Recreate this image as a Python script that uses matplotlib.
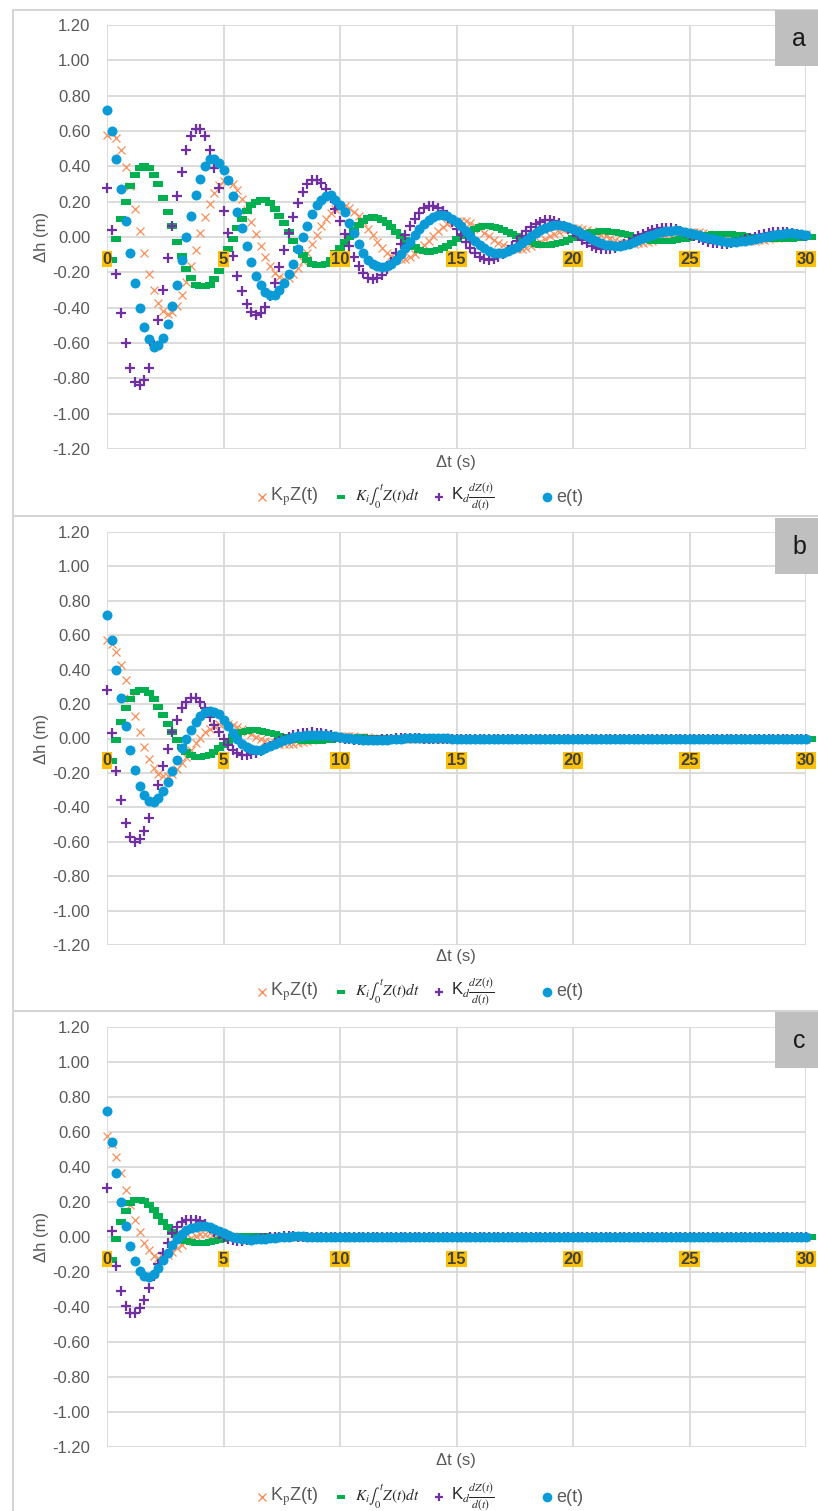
import numpy as np
import matplotlib
matplotlib.use("Agg")
import matplotlib.pyplot as plt
from matplotlib.path import Path
from matplotlib.lines import Line2D
from matplotlib.patches import Rectangle
from matplotlib.ticker import FormatStrFormatter
from matplotlib.transforms import offset_copy

plt.rcParams['font.family'] = ['Liberation Sans', 'DejaVu Sans']

W, H = 818, 1511
DT = 0.2
t = np.arange(151) * DT          # sample times, 0 .. 30 s
t_ki = t + DT                    # the integral column is logged one sample later

# ---- a: weakly damped ----
kp_a = [
    0.575,
    0.590, 0.558, 0.492, 0.399, 0.286, 0.161, 0.032, -0.093, -0.207, -0.301, -0.373, -0.418, -0.435,
    -0.425, -0.389, -0.330, -0.254, -0.165, -0.071, 0.023, 0.112, 0.189, 0.250, 0.294, 0.317,
    0.319, 0.301, 0.266, 0.216, 0.155, 0.087, 0.017, -0.050, -0.112, -0.163, -0.202, -0.226, -0.235,
    -0.230, -0.210, -0.178, -0.137, -0.089, -0.038, 0.012, 0.060, 0.102, 0.135, 0.159, 0.171,
    0.173, 0.163, 0.144, 0.117, 0.084, 0.047, 0.009, -0.027, -0.060, -0.088, -0.109, -0.122, -0.127,
    -0.124, -0.114, -0.097, -0.074, -0.048, -0.021, 0.007, 0.033, 0.055, 0.073, 0.086, 0.093,
    0.093, 0.088, 0.078, 0.063, 0.045, 0.025, 0.005, -0.015, -0.033, -0.048, -0.059, -0.066, -0.069,
    -0.067, -0.062, -0.052, -0.040, -0.026, -0.011, 0.004, 0.018, 0.030, 0.040, 0.047, 0.050,
    0.051, 0.048, 0.042, 0.034, 0.024, 0.014, 0.003, -0.008, -0.018, -0.026, -0.032, -0.036, -0.037,
    -0.036, -0.033, -0.028, -0.022, -0.014, -0.006, 0.002, 0.010, 0.016, 0.021, 0.025, 0.027,
    0.027, 0.026, 0.023, 0.018, 0.013, 0.007, 0.001, -0.004, -0.010, -0.014, -0.017, -0.019, -0.020,
    -0.020, -0.018, -0.015, -0.012, -0.008, -0.003, 0.001, 0.005, 0.009, 0.012, 0.014, 0.015,
]
ki_a = [
    -0.13, -0.01, 0.10, 0.20, 0.29, 0.35, 0.39, 0.40, 0.39, 0.35, 0.30, 0.22, 0.14, 0.06, -0.03,
    -0.11, -0.18, -0.23, -0.27, -0.28, -0.28, -0.27, -0.24, -0.19, -0.13, -0.07, -0.01, 0.05, 0.10,
    0.15, 0.18, 0.20, 0.21, 0.21, 0.19, 0.16, 0.12, 0.08, 0.03, -0.02, -0.07, -0.10, -0.13, -0.15,
    -0.16, -0.16, -0.15, -0.13, -0.09, -0.06, -0.03, 0.00, 0.04, 0.07, 0.09, 0.105, 0.113,
    0.107, 0.094, 0.077, 0.055, 0.031, 0.006, -0.018, -0.040, -0.058, -0.072, -0.080, -0.083, -0.081,
    -0.074, -0.063, -0.049, -0.032, -0.014, 0.004, 0.021, 0.036, 0.048, 0.056, 0.061, 0.061,
    0.058, 0.051, 0.041, 0.030, 0.017, 0.003, -0.010, -0.021, -0.031, -0.039, -0.043, -0.045, -0.044,
    -0.040, -0.034, -0.026, -0.017, -0.007, 0.002, 0.012, 0.020, 0.026, 0.030, 0.033, 0.033,
    0.031, 0.028, 0.022, 0.016, 0.009, 0.002, -0.005, -0.012, -0.017, -0.021, -0.023, -0.024, -0.024,
    -0.022, -0.019, -0.014, -0.009, -0.004, 0.001, 0.006, 0.011, 0.014, 0.016, 0.018, 0.018,
    0.017, 0.015, 0.012, 0.009, 0.005, 0.001, -0.003, -0.006, -0.009, -0.011, -0.013, -0.013, -0.013,
    -0.012, -0.010, -0.008, -0.005, -0.002, 0.001,
]
kd_a = [
    0.28, 0.04, -0.21, -0.43, -0.60, -0.74, -0.82, -0.84, -0.81, -0.74, -0.61, -0.47, -0.30, -0.12,
    0.06, 0.23, 0.37, 0.49, 0.57, 0.61, 0.61, 0.57, 0.49, 0.39, 0.28, 0.15, 0.02, -0.11, -0.22,
    -0.307, -0.380, -0.425, -0.443, -0.432, -0.395, -0.335, -0.258, -0.168, -0.072, 0.023, 0.113,
    0.192, 0.254, 0.299, 0.322,
    0.325, 0.307, 0.271, 0.220, 0.158, 0.089, 0.018, -0.051, -0.114, -0.166, -0.206, -0.230, -0.240,
    -0.234, -0.214, -0.182, -0.140, -0.091, -0.039, 0.013, 0.061, 0.104, 0.138, 0.162, 0.175,
    0.176, 0.166, 0.146, 0.119, 0.085, 0.048, 0.009, -0.028, -0.061, -0.090, -0.111, -0.125, -0.130,
    -0.126, -0.116, -0.098, -0.076, -0.049, -0.021, 0.007, 0.033, 0.056, 0.074, 0.087, 0.094,
    0.095, 0.090, 0.079, 0.064, 0.046, 0.026, 0.005, -0.015, -0.033, -0.049, -0.060, -0.067, -0.070,
    -0.068, -0.063, -0.053, -0.041, -0.027, -0.011, 0.004, 0.018, 0.030, 0.040, 0.047, 0.051,
    0.051, 0.049, 0.043, 0.035, 0.025, 0.014, 0.003, -0.008, -0.018, -0.026, -0.033, -0.036, -0.038,
    -0.037, -0.034, -0.029, -0.022, -0.014, -0.006, 0.002, 0.010, 0.016, 0.022, 0.026, 0.028,
    0.028, 0.026, 0.023, 0.019, 0.013, 0.008,
]
e_a = [
    0.72, 0.60, 0.44, 0.27, 0.09, -0.09, -0.26, -0.40, -0.51, -0.58, -0.62, -0.61, -0.57, -0.49,
    -0.39, -0.27, -0.13, 0.00, 0.12, 0.24, 0.33, 0.40, 0.44, 0.44, 0.42, 0.38, 0.32, 0.23, 0.14,
    0.05, -0.05, -0.14, -0.22, -0.27, -0.31, -0.33, -0.33, -0.30, -0.26, -0.21, -0.15, -0.07, 0.00,
    0.06, 0.13, 0.18, 0.21, 0.23, 0.235, 0.21, 0.18, 0.14, 0.08, 0.02, -0.04, -0.09, -0.13, -0.155,
    -0.165,
    -0.170, -0.166, -0.152, -0.129, -0.099, -0.065, -0.028, 0.009, 0.044, 0.074, 0.098, 0.115, 0.124,
    0.125, 0.118, 0.104, 0.085, 0.061, 0.034, 0.007, -0.020, -0.044, -0.064, -0.079, -0.089, -0.092,
    -0.090, -0.082, -0.070, -0.054, -0.035, -0.015, 0.005, 0.024, 0.040, 0.053, 0.062, 0.067,
    0.068, 0.064, 0.056, 0.046, 0.033, 0.018, 0.004, -0.011, -0.024, -0.035, -0.043, -0.048, -0.050,
    -0.049, -0.045, -0.038, -0.029, -0.019, -0.008, 0.003, 0.013, 0.022, 0.029, 0.034, 0.036,
    0.037, 0.035, 0.031, 0.025, 0.018, 0.010, 0.002, -0.006, -0.013, -0.019, -0.023, -0.026, -0.027,
    -0.026, -0.024, -0.020, -0.016, -0.010, -0.004, 0.001, 0.007, 0.012, 0.016, 0.018, 0.020,
    0.020, 0.019, 0.017, 0.013,
]

# ---- b: moderately damped ----
kp_b = [
    0.57, 0.55, 0.50, 0.43, 0.34, 0.235, 0.13, 0.035, -0.05, -0.12,
    -0.17, -0.205, -0.22, -0.22, -0.205, -0.18, -0.145, -0.105, -0.065, -0.028,
    0.005, 0.035, 0.058, 0.075, 0.085, 0.088, 0.086, 0.079, 0.068, 0.055,
    0.04, 0.025, 0.011, -0.002, -0.013, -0.022, -0.028, -0.032, -0.034, -0.033,
    -0.031, -0.027, -0.022, -0.016, -0.010, -0.005, 0.000, 0.004, 0.008, 0.010,
    0.012, 0.013, 0.013, 0.012, 0.010, 0.008, 0.006, 0.004, 0.002, 0.000,
    -0.002, -0.003, -0.004, -0.005, -0.005, -0.005, -0.004, -0.004, -0.003, -0.002, -0.001,
    0, 0, 0, 0, 0, 0, 0, 0, 0, 0, 0, 0, 0, 0, 0, 0, 0, 0, 0, 0,
    0, 0, 0, 0, 0, 0, 0, 0, 0, 0, 0, 0, 0, 0, 0, 0, 0, 0, 0, 0,
    0, 0, 0, 0, 0, 0, 0, 0, 0, 0, 0, 0, 0, 0, 0, 0, 0, 0, 0, 0,
    0, 0, 0, 0, 0, 0, 0, 0, 0, 0, 0, 0, 0, 0, 0, 0, 0, 0, 0, 0,
]
ki_b = [
    -0.13, -0.01, 0.095, 0.175, 0.232, 0.268, 0.282, 0.28, 0.265, 0.23,
    0.185, 0.135, 0.085, 0.035, -0.01, -0.05, -0.08, -0.098, -0.106, -0.108,
    -0.104, -0.094, -0.078, -0.058, -0.035, -0.012, 0.008, 0.024, 0.036, 0.043,
    0.047, 0.047, 0.045, 0.040, 0.033, 0.025, 0.016, 0.008, 0.000, -0.006,
    -0.011, -0.014, -0.016, -0.016, -0.015, -0.013, -0.010, -0.007, -0.004, -0.001,
    0.002, 0.004, 0.005, 0.006, 0.006, 0.005, 0.004, 0.003, 0.002, 0.000,
    -0.001, -0.002, -0.002, -0.002, -0.002, -0.001,
    0, 0, 0, 0, 0, 0, 0, 0, 0, 0, 0, 0, 0, 0, 0, 0, 0, 0, 0, 0,
    0, 0, 0, 0, 0, 0, 0, 0, 0, 0, 0, 0, 0, 0, 0, 0, 0, 0, 0, 0,
    0, 0, 0, 0, 0, 0, 0, 0, 0, 0, 0, 0, 0, 0, 0, 0, 0, 0, 0, 0,
    0, 0, 0, 0, 0, 0, 0, 0, 0, 0, 0, 0, 0, 0, 0, 0, 0, 0, 0, 0,
    0, 0, 0, 0, 0,
]
kd_b = [
    0.28, 0.03, -0.19, -0.36, -0.49, -0.57, -0.60, -0.585, -0.54, -0.46,
    -0.37, -0.27, -0.16, -0.06, 0.035, 0.11, 0.175, 0.215, 0.235, 0.235,
    0.215, 0.175, 0.125, 0.08, 0.035, -0.005, -0.04, -0.068, -0.085, -0.093,
    -0.095, -0.092, -0.085, -0.072, -0.057, -0.041, -0.026, -0.012, 0.000, 0.010,
    0.019, 0.026, 0.031, 0.034, 0.035, 0.034, 0.030, 0.025, 0.018, 0.011,
    0.005, 0.000, -0.004, -0.007, -0.009, -0.010, -0.009, -0.008, -0.006, -0.004,
    -0.002, 0.000, 0.001, 0.002, 0.003, 0.003, 0.002, 0.001,
    0, 0, 0, 0, 0, 0, 0, 0, 0, 0, 0, 0, 0, 0, 0, 0, 0, 0, 0, 0,
    0, 0, 0, 0, 0, 0, 0, 0, 0, 0, 0, 0, 0, 0, 0, 0, 0, 0, 0, 0,
    0, 0, 0, 0, 0, 0, 0, 0, 0, 0, 0, 0, 0, 0, 0, 0, 0, 0, 0, 0,
    0, 0, 0, 0, 0, 0, 0, 0, 0, 0, 0, 0, 0, 0, 0, 0, 0, 0, 0, 0,
    0, 0, 0,
]
e_b = [
    0.72, 0.57, 0.40, 0.235, 0.075, -0.068, -0.183, -0.276, -0.33, -0.363,
    -0.367, -0.344, -0.305, -0.253, -0.19, -0.125, -0.054, 0.0, 0.052, 0.095,
    0.13, 0.152, 0.16, 0.156, 0.14, 0.11, 0.07, 0.033, 0.0, -0.03,
    -0.048, -0.06, -0.064, -0.064, -0.054, -0.044, -0.033, -0.022, -0.011, -0.001,
    0.007, 0.013, 0.017, 0.020, 0.022, 0.022, 0.021, 0.019, 0.016, 0.013,
    0.009, 0.005, 0.001, -0.002, -0.005, -0.007, -0.008, -0.009, -0.009, -0.008,
    -0.007, -0.005, -0.003, -0.001, 0.001, 0.002, 0.003, 0.003, 0.003, 0.003,
    0.002, 0.002, 0.001, 0.001,
    0, 0, 0, 0, 0, 0, 0, 0, 0, 0, 0, 0, 0, 0, 0, 0, 0, 0, 0, 0,
    0, 0, 0, 0, 0, 0, 0, 0, 0, 0, 0, 0, 0, 0, 0, 0, 0, 0, 0, 0,
    0, 0, 0, 0, 0, 0, 0, 0, 0, 0, 0, 0, 0, 0, 0, 0, 0, 0, 0, 0,
    0, 0, 0, 0, 0, 0, 0, 0, 0, 0,
    0, 0, 0, 0, 0, 0, 0,
]

# ---- c: strongly damped ----
kp_c = [
    0.577, 0.53, 0.456, 0.368, 0.271, 0.183, 0.10, 0.027, -0.035, -0.077,
    -0.107, -0.12, -0.116, -0.103, -0.085, -0.064, -0.043, -0.023, -0.006, 0.007,
    0.015, 0.02, 0.021, 0.019, 0.016, 0.012, 0.008, 0.004, 0.001, -0.002,
    -0.003, -0.004, -0.004, -0.004, -0.003, -0.002, -0.001,
    0, 0, 0, 0, 0, 0, 0, 0, 0, 0, 0, 0, 0, 0, 0, 0, 0, 0, 0, 0,
    0, 0, 0, 0, 0, 0, 0, 0, 0, 0, 0, 0, 0, 0, 0, 0, 0, 0, 0, 0,
    0, 0, 0, 0, 0, 0, 0, 0, 0, 0, 0, 0, 0, 0, 0, 0, 0, 0, 0, 0,
    0, 0, 0, 0, 0, 0, 0, 0, 0, 0, 0, 0, 0, 0, 0, 0, 0, 0, 0, 0,
    0, 0, 0, 0, 0, 0, 0, 0, 0, 0, 0, 0, 0, 0, 0, 0, 0, 0, 0, 0,
    0, 0, 0, 0, 0, 0, 0, 0, 0, 0,
    0, 0, 0, 0,
]
ki_c = [
    -0.13, -0.01, 0.086, 0.15, 0.193, 0.21, 0.213, 0.204, 0.182, 0.152,
    0.118, 0.085, 0.055, 0.03, 0.009, -0.008, -0.021, -0.029, -0.034, -0.036,
    -0.034, -0.03, -0.025, -0.018, -0.012, -0.006, -0.002, 0.001, 0.003, 0.004,
    0.005, 0.005, 0.004, 0.003, 0.002, 0.001,
    0, 0, 0, 0, 0, 0, 0, 0, 0, 0, 0, 0, 0, 0, 0, 0, 0, 0, 0, 0,
    0, 0, 0, 0, 0, 0, 0, 0, 0, 0, 0, 0, 0, 0, 0, 0, 0, 0, 0, 0,
    0, 0, 0, 0, 0, 0, 0, 0, 0, 0, 0, 0, 0, 0, 0, 0, 0, 0, 0, 0,
    0, 0, 0, 0, 0, 0, 0, 0, 0, 0, 0, 0, 0, 0, 0, 0, 0, 0, 0, 0,
    0, 0, 0, 0, 0, 0, 0, 0, 0, 0, 0, 0, 0, 0, 0, 0, 0, 0, 0, 0,
    0, 0, 0, 0, 0, 0, 0, 0, 0, 0,
    0, 0, 0, 0, 0,
]
kd_c = [
    0.28, 0.034, -0.166, -0.31, -0.392, -0.435, -0.437, -0.408, -0.359, -0.294,
    -0.222, -0.152, -0.09, -0.032, 0.021, 0.06, 0.083, 0.097, 0.1, 0.1,
    0.092, 0.074, 0.05, 0.03, 0.015, 0.002, -0.009, -0.016, -0.02, -0.021,
    -0.019, -0.016, -0.012, -0.008, -0.004, -0.001, 0.001, 0.002, 0.003, 0.003,
    0.003, 0.002, 0.001,
    0, 0, 0, 0, 0, 0, 0, 0, 0, 0, 0, 0, 0, 0, 0, 0, 0, 0, 0, 0,
    0, 0, 0, 0, 0, 0, 0, 0, 0, 0, 0, 0, 0, 0, 0, 0, 0, 0, 0, 0,
    0, 0, 0, 0, 0, 0, 0, 0, 0, 0, 0, 0, 0, 0, 0, 0, 0, 0, 0, 0,
    0, 0, 0, 0, 0, 0, 0, 0, 0, 0, 0, 0, 0, 0, 0, 0, 0, 0, 0, 0,
    0, 0, 0, 0, 0, 0, 0, 0, 0, 0, 0, 0, 0, 0, 0, 0, 0, 0, 0, 0,
    0, 0, 0, 0, 0, 0, 0, 0,
]
e_c = [
    0.72, 0.545, 0.366, 0.20, 0.062, -0.05, -0.136, -0.194, -0.224, -0.23,
    -0.212, -0.176, -0.132, -0.09, -0.047, -0.01, 0.02, 0.04, 0.053, 0.06,
    0.063, 0.062, 0.057, 0.048, 0.036, 0.024, 0.012, 0.002, -0.006, -0.011,
    -0.014, -0.015, -0.014, -0.012, -0.009, -0.006, -0.003, -0.001, 0.001, 0.002,
    0.003, 0.003, 0.003, 0.002, 0.001,
    0, 0, 0, 0, 0, 0, 0, 0, 0, 0, 0, 0, 0, 0, 0, 0, 0, 0, 0, 0,
    0, 0, 0, 0, 0, 0, 0, 0, 0, 0, 0, 0, 0, 0, 0, 0, 0, 0, 0, 0,
    0, 0, 0, 0, 0, 0, 0, 0, 0, 0, 0, 0, 0, 0, 0, 0, 0, 0, 0, 0,
    0, 0, 0, 0, 0, 0, 0, 0, 0, 0, 0, 0, 0, 0, 0, 0, 0, 0, 0, 0,
    0, 0, 0, 0, 0, 0, 0, 0, 0, 0, 0, 0, 0, 0, 0, 0, 0, 0, 0, 0,
    0, 0, 0, 0, 0, 0,
]

x_ticks = [0, 5, 10, 15, 20, 25, 30]
y_ticks = [i / 5 for i in range(-6, 7)]

ORANGE = '#F4915E'
GREEN = '#00B050'
PURPLE = '#7030A0'
BLUE = '#0A9BD7'
GRID = '#D9D9D9'
TEXT = '#595959'

DASH = Path([(-1, -0.55), (1, -0.55), (1, 0.55), (-1, 0.55), (-1, -0.55)],
            [Path.MOVETO, Path.LINETO, Path.LINETO, Path.LINETO, Path.CLOSEPOLY])

LEGEND = [
    ('x', ORANGE, r'K$_{\rm p}$Z(t)', 13),
    (DASH, GREEN, r'$K_i\int_0^t Z(t)dt$', 11),
    ('+', PURPLE, r'K$_d\frac{dZ(t)}{d(t)}$', 12),
    ('o', BLUE, 'e(t)', 13),
]

# pixel layout of each chart block: axes top/bottom, frame top/bottom,
# x label row, legend row, tag box top
LAYOUT = {
    'a': dict(ax=(25, 449), frame=(10, 516), xlab=462, leg=497, tag=10),
    'b': dict(ax=(532, 945), frame=(516, 1011), xlab=957, leg=992, tag=518),
    'c': dict(ax=(1027, 1447), frame=(1011, 1522), xlab=1461, leg=1497, tag=1012),
}
SERIES = {
    'a': (kp_a, ki_a, kd_a, e_a),
    'b': (kp_b, ki_b, kd_b, e_b),
    'c': (kp_c, ki_c, kd_c, e_c),
}


def fx(x):
    return x / W


def fy(y):
    return 1 - y / H


def draw_series(ax, kp, ki, kd, e):
    common = dict(linestyle='none', clip_on=False)
    ax.plot(t, kp, marker='x', ms=6.3, mew=0.9, color=ORANGE, **common)
    ax.plot(t_ki, ki, marker=DASH, ms=7.0, mew=0, color=GREEN, **common)
    ax.plot(t, kd, marker='+', ms=6.5, mew=1.6, color=PURPLE, **common)
    ax.plot(t, e, marker='o', ms=7.2, mew=0, color=BLUE, **common)


def style_axes(ax):
    ax.set_xlim(0, 30)
    ax.set_ylim(-1.2, 1.2)
    ax.set_xticks(x_ticks)
    ax.set_yticks(y_ticks)
    ax.yaxis.set_major_formatter(FormatStrFormatter('%.2f'))
    ax.tick_params(length=0, labelsize=12, labelcolor=TEXT)
    ax.tick_params(axis='y', pad=12)
    ax.tick_params(axis='x', labelbottom=False)
    ax.grid(True, color=GRID, lw=1.3)
    ax.set_axisbelow(True)
    for s in ax.spines.values():
        s.set_visible(False)
    ax.set_ylabel('Δh (m)', fontsize=12, color=TEXT)
    ax.yaxis.set_label_coords(-0.083, 0.5)

    # category labels sit on the zero line, highlighted
    trans = offset_copy(ax.transData, fig=ax.figure, y=-22, units='dots')
    for v in x_ticks:
        ax.text(v, 0, str(v), transform=trans, ha='center', va='center',
                fontsize=12, fontweight='bold', color='#404040', zorder=6,
                clip_on=False,
                bbox=dict(boxstyle='square,pad=0.05', fc='#FFC000', ec='none'))


def draw_legend(fig, y):
    marks = [262, 341, 439, 547]
    texts = [270, 355, 451, 556]
    for (m, c, label, size), mx, tx in zip(LEGEND, marks, texts):
        if m == 'o':
            kw = dict(ms=7.0, mew=0)
        elif m is DASH:
            kw = dict(ms=5.8, mew=0)
        elif m == 'x':
            kw = dict(ms=6.3, mew=1.0)
        else:
            kw = dict(ms=6.3, mew=1.6)
        fig.add_artist(Line2D([fx(mx)], [fy(y)], transform=fig.transFigure,
                              marker=m, color=c, linestyle='none', **kw))
        fig.text(fx(tx), fy(y), label, ha='left', va='center', fontsize=size,
                 color=TEXT if m in ('x', 'o') else '#262626',
                 math_fontfamily='stix')


fig = plt.figure(figsize=(W / 100, H / 100), dpi=100)

for tag, lay in LAYOUT.items():
    top, bot = lay['ax']
    ax = fig.add_axes([fx(107), fy(bot), (806 - 107) / W, (bot - top) / H])
    style_axes(ax)
    draw_series(ax, *SERIES[tag])

    f_top, f_bot = lay['frame']
    fig.add_artist(Rectangle((fx(13), fy(f_bot)), (830 - 13) / W, (f_bot - f_top) / H,
                             transform=fig.transFigure, fill=False,
                             ec='#D4D4D4', lw=1.4, zorder=0))
    fig.add_artist(Rectangle((fx(775), fy(lay['tag'] + 56)), 50 / W, 56 / H,
                             transform=fig.transFigure, fc='#BFBFBF', ec='none',
                             zorder=3))
    fig.text(fx(799), fy(lay['tag'] + 29), tag, ha='center', va='center',
             fontsize=18, color='#1A1A1A', zorder=4)

    fig.text(fx(456), fy(lay['xlab']), 'Δt (s)', ha='center', va='center',
             fontsize=12, color=TEXT)
    draw_legend(fig, lay['leg'])

fig.savefig('out.png', dpi=100)
